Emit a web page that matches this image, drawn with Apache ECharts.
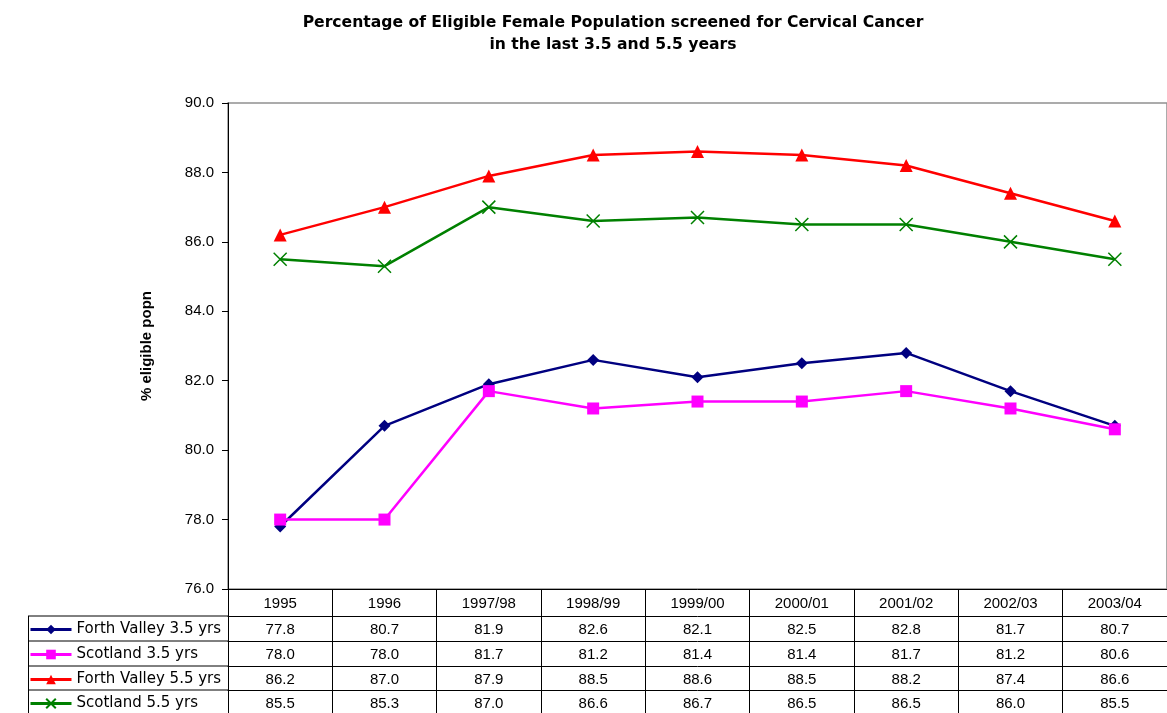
<!DOCTYPE html>
<html>
<head>
<meta charset="utf-8">
<script src="https://cdn.jsdelivr.net/npm/echarts@6/dist/echarts.min.js"></script>
<style>
  html, body { margin: 0; padding: 0; background: #fff; }
  #chart { width: 1167px; height: 713px; }
</style>
</head>
<body>
<div id="chart"></div>
<script>
const categories = ['1995', '1996', '1997/98', '1998/99', '1999/00', '2000/01', '2001/02', '2002/03', '2003/04'];
const fv35 = [77.8, 80.7, 81.9, 82.6, 82.1, 82.5, 82.8, 81.7, 80.7];
const sc35 = [78.0, 78.0, 81.7, 81.2, 81.4, 81.4, 81.7, 81.2, 80.6];
const fv55 = [86.2, 87.0, 87.9, 88.5, 88.6, 88.5, 88.2, 87.4, 86.6];
const sc55 = [85.5, 85.3, 87.0, 86.6, 86.7, 86.5, 86.5, 86.0, 85.5];
const seriesNames = ['Forth Valley 3.5 yrs', 'Scotland 3.5 yrs', 'Forth Valley 5.5 yrs', 'Scotland 5.5 yrs'];

const FONT = '"Liberation Sans", Arial, sans-serif';
const WIDE = '"DejaVu Sans", sans-serif';
const crossPath = 'path://M0,0L10,10M10,0L0,10';

const rows = [
  {name: seriesNames[0], data: fv35, color: '#000080', symbol: 'diamond', size: 12},
  {name: seriesNames[1], data: sc35, color: '#ff00ff', symbol: 'rect', size: 12},
  {name: seriesNames[2], data: fv55, color: '#ff0000', symbol: 'triangle', size: 13},
  {name: seriesNames[3], data: sc55, color: '#008000', symbol: crossPath, size: 13},
]
// table row rules (offset of each row's top line below the plot)
const rowOffsets = [27, 52, 77, 101]

const chart = echarts.init(document.getElementById('chart'));

const xAxes = [{
  type: 'category',
  data: categories,
  position: 'bottom',
  boundaryGap: true,
  axisLine: {onZero: false, lineStyle: {color: '#000', width: 1}},
  axisTick: {show: true, length: 130, interval: 0, lineStyle: {color: '#000', width: 1}},
  axisLabel: {color: '#000', fontSize: 15, fontFamily: FONT, margin: 7, interval: 0},
  splitLine: {show: false},
}]
rows.forEach((r, i) => {
  xAxes.push({
    type: 'category',
    data: r.data.map(v => v.toFixed(1)),
    position: 'bottom',
    offset: rowOffsets[i],
    axisLine: {onZero: false, lineStyle: {color: '#000', width: 1}},
    axisTick: {show: false},
    axisLabel: {color: '#000', fontSize: 15, fontFamily: FONT, margin: 6, interval: 0},
    splitLine: {show: false},
  })
})

const tableLines = []
rowOffsets.forEach(o => {
  tableLines.push({type: 'line', shape: {x1: 28, y1: 589 + o, x2: 228, y2: 589 + o}, style: {stroke: '#000', lineWidth: 1}})
})
tableLines.push({type: 'line', shape: {x1: 28.5, y1: 616, x2: 28.5, y2: 713}, style: {stroke: '#000', lineWidth: 1}})

const legends = rows.map((r, i) => ({
  data: [r.name],
  left: 29,
  top: 589 + rowOffsets[i] + 6,
  padding: 0,
  itemWidth: 41,
  itemHeight: 12,
  itemGap: 4,
  lineStyle: {width: 3},
  textStyle: {color: '#000', fontSize: 15, fontFamily: WIDE},
  selectedMode: false,
}))

const option = {
  animation: false,
  textStyle: {fontFamily: FONT},
  title: {
    text: 'Percentage of Eligible Female Population screened for Cervical Cancer\nin the last 3.5 and 5.5 years',
    left: 608,
    top: 7,
    textAlign: 'center',
    textStyle: {fontSize: 15.6, fontWeight: 'bold', color: '#000', lineHeight: 22, fontFamily: WIDE},
  },
  legend: legends,
  grid: {
    left: 228,
    top: 103,
    width: 949.5,
    height: 486,
    show: true,
    borderColor: '#909090',
    borderWidth: 1.5,
    containLabel: false,
  },
  xAxis: xAxes,
  yAxis: {
    type: 'value',
    min: 76,
    max: 90,
    interval: 2,
    name: '% eligible popn',
    nameLocation: 'middle',
    nameGap: 74,
    nameRotate: 90,
    nameTextStyle: {fontSize: 15, fontWeight: 'bold', color: '#000', fontFamily: FONT},
    axisLine: {show: true, lineStyle: {color: '#000', width: 1}},
    axisTick: {show: true, length: 6, lineStyle: {color: '#000'}},
    axisLabel: {color: '#000', fontSize: 15, fontFamily: FONT, margin: 14, formatter: v => v.toFixed(1)},
    splitLine: {show: false},
  },
  series: rows.map(r => ({
    name: r.name,
    type: 'line',
    data: r.data,
    symbol: r.symbol,
    symbolSize: r.size,
    showAllSymbol: true,
    lineStyle: {color: r.color, width: 2.5},
    itemStyle: {color: r.symbol === crossPath ? 'none' : r.color, borderColor: r.color, borderWidth: r.symbol === crossPath ? 1.5 : 0},
  })),
  graphic: tableLines,
};

chart.setOption(option);
</script>
</body>
</html>
